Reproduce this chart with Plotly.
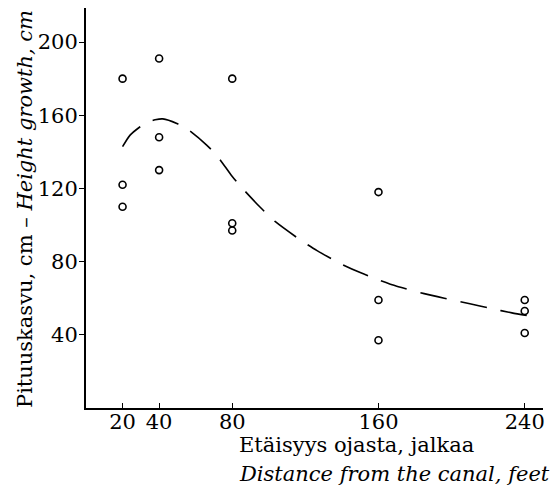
import plotly.graph_objects as go

# observed data points
obs_x = [20, 20, 20, 40, 40, 40, 80, 80, 80, 160, 160, 160, 240, 240, 240]
obs_y = [180, 122, 110, 191, 148, 130, 180, 101, 97, 118, 59, 37, 59, 53, 41]

# dashed trend curve
curve_x = [20, 24, 29.6, 33, 37.8, 42, 49.7, 56, 66, 71.6, 79.8, 84.4, 95.3, 103.6,
           117.3, 126.4, 139, 150, 160, 170, 185, 196, 210, 221, 233, 244]
curve_y = [142.8, 149, 153.7, 156, 157.5, 158, 155.5, 152, 143.7, 138, 126.8, 121.3,
           109.7, 101.8, 91.8, 86, 79, 74, 70, 66.5, 62.5, 60, 57, 54.5, 52, 50]

x_ticks = [20, 40, 80, 160, 240]
y_ticks = [40, 80, 120, 160, 200]

FONT = "DejaVu Serif"

# page body has an 8px margin, so figure is laid out 8px in from the window corner
W, H = 550, 477
L, T, B = 78, 0, 77
R = W - 535
PW = W - L - R
PH = H - T - B

fig = go.Figure()
fig.add_trace(go.Scatter(
    x=curve_x, y=curve_y, mode="lines",
    line=dict(color="black", width=1.6, dash="27px,14px", shape="spline", smoothing=0.6),
    hoverinfo="skip", showlegend=False))
fig.add_trace(go.Scatter(
    x=obs_x, y=obs_y, mode="markers",
    marker=dict(symbol="circle-open", size=7, color="black", line=dict(width=1.6)),
    showlegend=False))

fig.update_layout(
    width=W, height=H,
    margin=dict(l=L, r=R, t=T, b=B),
    paper_bgcolor="white", plot_bgcolor="white",
    font=dict(family=FONT, size=21, color="black"),
    xaxis=dict(range=[0, 250], tickvals=x_ticks, ticktext=[str(v) for v in x_ticks],
               showgrid=False, zeroline=False, showline=True, linecolor="black",
               linewidth=2, ticks="inside", ticklen=5, tickwidth=1, tickcolor="black",
               ticklabelstandoff=-6,
               tickfont=dict(family=FONT, size=21)),
    yaxis=dict(range=[0, 218.6], tickvals=y_ticks, ticktext=[str(v) for v in y_ticks],
               showgrid=False, zeroline=False, showline=True, linecolor="black",
               linewidth=2, ticks="outside", ticklen=5, tickwidth=1, tickcolor="black",
               ticklabelstandoff=-3,
               tickfont=dict(family=FONT, size=21)),
    annotations=[
        dict(text="Etäisyys ojasta, jalkaa", xref="paper", yref="paper",
             x=(229 - L) / PW, y=-(437 - PH) / PH, xanchor="left", yanchor="middle",
             showarrow=False, font=dict(family=FONT, size=21)),
        dict(text="<i>Distance from the canal, feet</i>", xref="paper", yref="paper",
             x=(229 - L) / PW, y=-(466 - PH) / PH, xanchor="left", yanchor="middle",
             showarrow=False, font=dict(family=FONT, size=21)),
        dict(text="Pituuskasvu, cm – <i>Height growth, cm</i>", xref="paper", yref="paper",
             x=-(L - 17) / PW, y=(PH - 201) / PH, xanchor="center", yanchor="middle",
             textangle=-90, showarrow=False, font=dict(family=FONT, size=21)),
    ],
)

fig.write_html("out.html")
